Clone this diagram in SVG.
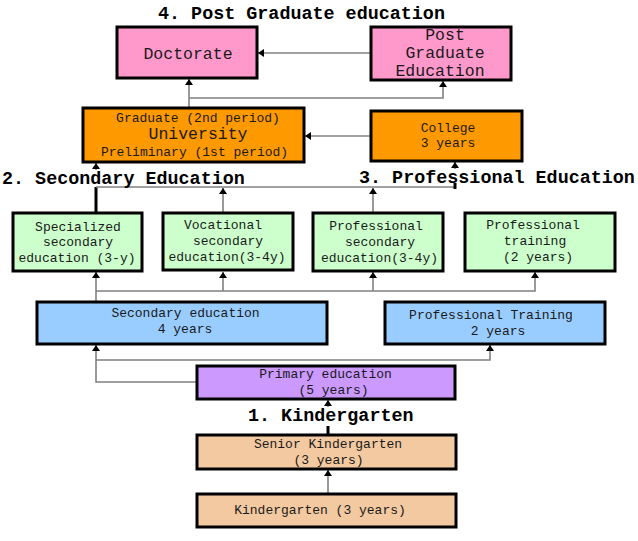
<svg xmlns="http://www.w3.org/2000/svg" width="638" height="541" viewBox="0 0 638 541">
<style>
.box{stroke:#000;stroke-width:3}
.pink{fill:#FF99CC}.orange{fill:#FF9900}.green{fill:#CCFFCC}.blue{fill:#99CCFF}.purple{fill:#CC99FF}.tan{fill:#F2C9A0}
text{font-family:"Liberation Mono","Courier New",monospace;fill:#1a1a1a;text-anchor:middle}
.t{font-size:13px}
.big{font-size:16.5px}
.h{font-size:18.4px;font-weight:bold;fill:#000;text-anchor:start}
.c{fill:none;stroke:#808080;stroke-width:1.6}
.k{fill:none;stroke:#000;stroke-width:3}
</style>
<defs>
<marker id="a" viewBox="0 0 6 8" refX="6" refY="4" markerWidth="6" markerHeight="8" markerUnits="userSpaceOnUse" orient="auto">
<path d="M0,0 L6,4 L0,8 z" fill="#000"/>
</marker>
</defs>
<rect width="638" height="541" fill="#fff"/>
<g id="connectors">
<path class="c" d="M371 53 H258" marker-end="url(#a)"/>
<path class="c" d="M189 108 V79" marker-end="url(#a)"/>
<path class="c" d="M189 98 H443 V81" marker-end="url(#a)"/>
<path class="c" d="M371 136 H305" marker-end="url(#a)"/>
<path class="k" d="M96 213 V187"/>
<path class="c" d="M96 187 H455"/>
<path class="c" d="M96 170 V163" marker-end="url(#a)"/>
<path class="c" d="M223 213 V188" marker-end="url(#a)"/>
<path class="c" d="M373 213 V188" marker-end="url(#a)"/>
<path class="k" d="M455 183 V189"/>
<path class="c" d="M455 169 V162" marker-end="url(#a)"/>
<path class="c" d="M96 302 V272" marker-end="url(#a)"/>
<path class="c" d="M96 291 H535 V272" marker-end="url(#a)"/>
<path class="c" d="M223 291 V272" marker-end="url(#a)"/>
<path class="c" d="M373 291 V272" marker-end="url(#a)"/>
<path class="c" d="M197 382 H96 V345" marker-end="url(#a)"/>
<path class="c" d="M96 360 H490 V345" marker-end="url(#a)"/>
<path class="k" d="M328 435 V426"/>
<path class="c" d="M328 407 V400" marker-end="url(#a)"/>
<path class="c" d="M328 494 V470" marker-end="url(#a)"/>
</g>
<g id="headings">
<text class="h" x="158" y="19">4. Post Graduate education</text>
<text class="h" x="2" y="184">2. Secondary Education</text>
<text class="h" x="359" y="183">3. Professional Education</text>
<text class="h" x="248" y="421">1. Kindergarten</text>
</g>
<g id="doctorate">
<rect class="box pink" x="117" y="27" width="140" height="51"/>
<text class="big" x="188" y="59">Doctorate</text>
</g>
<g id="postgraduate">
<rect class="box pink" x="371" y="27" width="140" height="53"/>
<text class="big" x="445" y="40">Post</text>
<text class="big" x="445" y="58">Graduate</text>
<text class="big" x="440" y="76">Education</text>
</g>
<g id="university">
<rect class="box orange" x="83" y="108" width="221" height="54"/>
<text class="t" x="198" y="122">Graduate (2nd period)</text>
<text class="big" x="198" y="139">University</text>
<text class="t" x="194.5" y="156">Preliminary (1st period)</text>
</g>
<g id="college">
<rect class="box orange" x="371" y="111" width="151" height="50"/>
<text class="t" x="448" y="132">College</text>
<text class="t" x="448" y="147">3 years</text>
</g>
<g id="specialized">
<rect class="box green" x="13" y="213" width="129" height="58"/>
<text class="t" x="78" y="231">Specialized</text>
<text class="t" x="78" y="246">secondary</text>
<text class="t" x="77" y="262">education (3-y)</text>
</g>
<g id="vocational">
<rect class="box green" x="163" y="213" width="130" height="57"/>
<text class="t" x="223" y="229">Vocational</text>
<text class="t" x="228" y="245">secondary</text>
<text class="t" x="227" y="261">education(3-4y)</text>
</g>
<g id="profsecondary">
<rect class="box green" x="313" y="213" width="130" height="58"/>
<text class="t" x="376" y="230">Professional</text>
<text class="t" x="380" y="246">secondary</text>
<text class="t" x="379.5" y="262">education(3-4y)</text>
</g>
<g id="proftraining">
<rect class="box green" x="465" y="213" width="150" height="58"/>
<text class="t" x="533" y="229">Professional</text>
<text class="t" x="535" y="245">training</text>
<text class="t" x="538" y="261">(2 years)</text>
</g>
<g id="secondary">
<rect class="box blue" x="37" y="302" width="290" height="42"/>
<text class="t" x="185.5" y="317">Secondary education</text>
<text class="t" x="185" y="333">4 years</text>
</g>
<g id="proftraining2">
<rect class="box blue" x="385" y="302" width="220" height="42"/>
<text class="t" x="491" y="319">Professional Training</text>
<text class="t" x="498" y="335">2 years</text>
</g>
<g id="primary">
<rect class="box purple" x="197" y="366" width="258" height="33"/>
<text class="t" x="325.5" y="378">Primary education</text>
<text class="t" x="333.5" y="394">(5 years)</text>
</g>
<g id="senior">
<rect class="box tan" x="197" y="435" width="259" height="34"/>
<text class="t" x="328" y="448">Senior Kindergarten</text>
<text class="t" x="328.5" y="464">(3 years)</text>
</g>
<g id="kindergarten">
<rect class="box tan" x="197" y="494" width="259" height="33"/>
<text class="t" x="320" y="514">Kindergarten (3 years)</text>
</g>
</svg>
